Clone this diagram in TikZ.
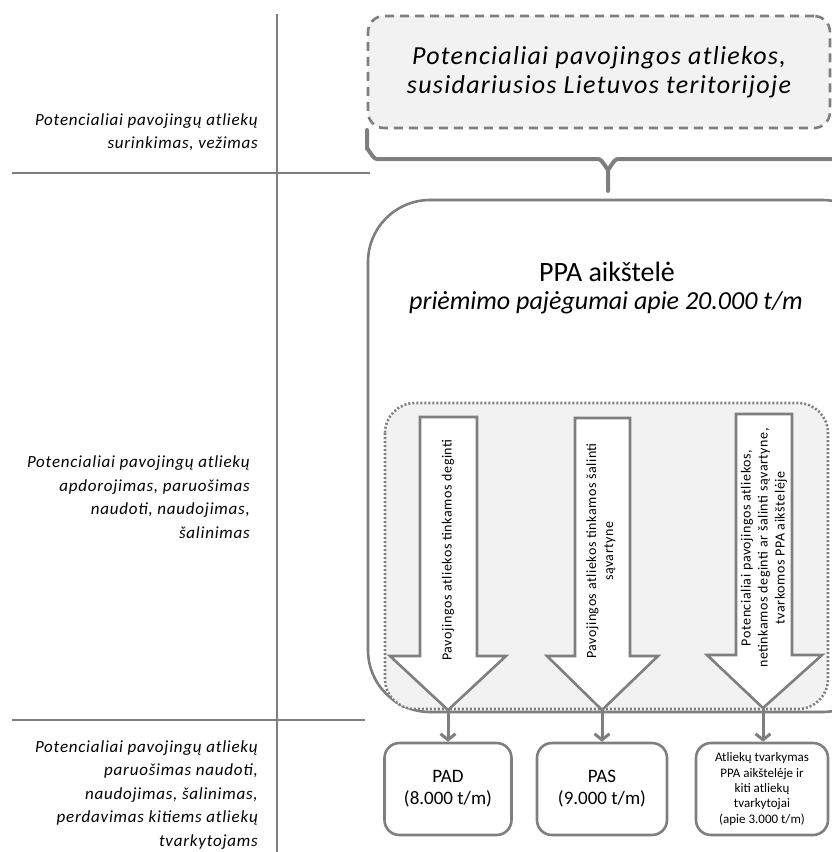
\documentclass[tikz,border=0pt]{standalone}
\usepackage{fontspec}
\setmainfont{Carlito}
\newfontfamily\widefont[LetterSpace=4.5]{Carlito}
\newfontfamily\topfont[LetterSpace=5]{Carlito}
\newfontfamily\arrfont[LetterSpace=4]{Carlito}
\usetikzlibrary{arrows.meta}
\definecolor{lg}{HTML}{7F7F7F}
\definecolor{lf}{HTML}{F2F2F2}
\begin{document}
\begin{tikzpicture}[x=1pt,y=-1pt,
  gline/.style={draw=lg,line width=2.6pt},
  lefttxt/.style={align=right,anchor=east,inner sep=0pt,font=\widefont\fontsize{17}{23.5}\selectfont\itshape},
  blockarrow/.style={draw=lg,fill=white,line width=2.6pt,line join=miter},
  arrtxt/.style={rotate=90,align=center,inner sep=0pt,font=\arrfont\fontsize{14}{17}\selectfont},
  resbox/.style={draw=lg,fill=white,line width=2.6pt,rounded corners=15pt,minimum height=92pt,align=center,inner sep=0pt},
  conn/.style={draw=lg,line width=3pt,-{Straight Barb[length=6pt,width=15pt]}}]
\useasboundingbox (0,0) rectangle (832,852);

% left column lines
\draw[gline] (277,14) -- (277,852);
\draw[gline] (12,173) -- (370,173);
\draw[gline] (12,720) -- (365,720);

% left labels
\node[lefttxt] (l1) at (258,132) {Potencialiai pavojingų atliekų\\surinkimas, vežimas};
\node[lefttxt] (l2) at (250,497) {Potencialiai pavojingų atliekų\\apdorojimas, paruošimas\\naudoti, naudojimas,\\šalinimas};
\node[lefttxt] (l3) at (258,795) {Potencialiai pavojingų atliekų\\paruošimas naudoti,\\naudojimas, šalinimas,\\perdavimas kitiems atliekų\\tvarkytojams};

% top dashed box
\node[draw=lg,fill=lf,line width=2.6pt,dash pattern=on 9pt off 6pt,rounded corners=16pt,
      minimum width=462pt,minimum height=112pt,align=center,
      font=\topfont\fontsize{26}{29}\selectfont\itshape] (src) at (599,72)
  {Potencialiai pavojingos atliekos,\\susidariusios Lietuvos teritorijoje};

% brace
\draw[draw=lg,line width=4pt,line cap=round]
  (367,130) -- (367,150) to[out=90,in=180] (377,159) -- (598,159)
  to[out=0,in=-90] (608,168) -- (608,191);
\draw[draw=lg,line width=4pt]
  (608,168) to[out=-90,in=180] (618,159) -- (840,159);

% big PPA box
\draw[draw=lg,fill=white,line width=2.6pt,rounded corners=62pt] (368,200) rectangle (884,712);
\node[font=\fontsize{28}{32}\selectfont] (ppa) at (607,272) {PPA aikštelė};
\node[font=\fontsize{26}{30}\selectfont\itshape] (cap) at (606,303) {priėmimo pajėgumai apie 20.000 t/m};

% dotted inner box
\draw[draw=lg,fill=lf,line width=2.6pt,dash pattern=on 2pt off 2pt,rounded corners=30pt] (385,403) rectangle (828,709);

% block arrows
\draw[blockarrow] (420,417) -- (477,417) -- (477,656) -- (506,656) -- (448,710) -- (390,656) -- (420,656) -- cycle;
\draw[blockarrow] (575,418) -- (630,418) -- (630,656) -- (658,656) -- (602,710) -- (547,656) -- (575,656) -- cycle;
\draw[blockarrow] (736,414) -- (792,414) -- (792,655) -- (822,655) -- (763,708) -- (707,655) -- (736,655) -- cycle;
\coordinate (t1) at (448,710);
\coordinate (t2) at (602,710);
\coordinate (t3) at (763,708);

\node[arrtxt] (a1) at (448,550) {Pavojingos atliekos tinkamos deginti};
\node[arrtxt] (a2) at (601,551) {Pavojingos atliekos tinkamos šalinti\\sąvartyne};
\node[arrtxt] (a3) at (764,548) {Potencialiai pavojingos atliekos,\\netinkamos deginti ar šalinti sąvartyne,\\tvarkomos PPA aikštelėje};

% result boxes
\node[resbox,minimum width=127pt,font=\fontsize{19}{22}\selectfont] (pad) at (448,789) {PAD\\(8.000 t/m)};
\node[resbox,minimum width=130pt,font=\fontsize{19}{22}\selectfont] (pas) at (602,789) {PAS\\(9.000 t/m)};
\node[resbox,minimum width=132pt,font=\fontsize{13}{15.3}\selectfont] (oth) at (762,789) {Atliekų tvarkymas\\PPA aikštelėje ir\\kiti atliekų\\tvarkytojai\\(apie 3.000 t/m)};

% connectors
\draw[conn] (t1) -- (pad.north);
\draw[conn] (t2) -- (pas.north);
\draw[conn] (t3) -- (oth.north -| t3);
\end{tikzpicture}
\end{document}
